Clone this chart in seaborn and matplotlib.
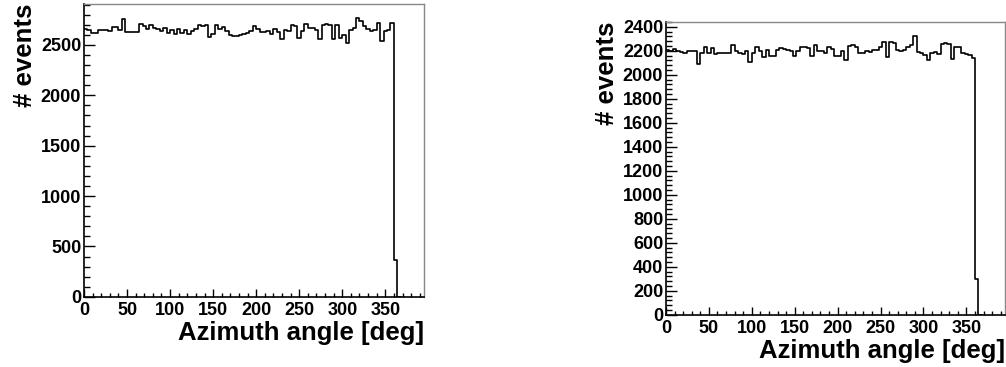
import numpy as np
import pandas as pd
import seaborn as sns
import matplotlib
matplotlib.use("Agg")
import matplotlib.pyplot as plt
from matplotlib.ticker import MultipleLocator, AutoMinorLocator

# 4 degree bins; bin 360-364 only partly filled, 364-368 empty
bin_edges = list(range(0, 372, 4))

counts_left = [
    2660, 2645, 2620, 2615, 2645, 2650, 2650, 2640, 2675, 2675,
    2650, 2760, 2625, 2625, 2630, 2625, 2710, 2690, 2660, 2700,
    2670, 2660, 2640, 2670, 2620, 2650, 2610, 2655, 2615, 2650,
    2610, 2640, 2660, 2700, 2690, 2700, 2580, 2610, 2700, 2660,
    2680, 2640, 2600, 2590, 2590, 2595, 2605, 2615, 2640, 2690,
    2655, 2630, 2625, 2640, 2605, 2660, 2630, 2560, 2650, 2640,
    2700, 2690, 2570, 2640, 2705, 2670, 2665, 2650, 2560, 2700,
    2710, 2700, 2560, 2695, 2570, 2600, 2520, 2650, 2670, 2770,
    2735, 2690, 2660, 2640, 2645, 2720, 2540, 2640, 2650, 2720,
    370, 0,
]

counts_right = [
    2210, 2195, 2215, 2200, 2190, 2180, 2200, 2195, 2200, 2090,
    2180, 2235, 2180, 2225, 2175, 2180, 2180, 2185, 2180, 2250,
    2195, 2185, 2175, 2195, 2110, 2185, 2230, 2200, 2150, 2210,
    2160, 2155, 2205, 2225, 2215, 2210, 2200, 2160, 2200, 2230,
    2235, 2225, 2160, 2250, 2200, 2195, 2185, 2230, 2215, 2160,
    2155, 2200, 2120, 2240, 2245, 2235, 2180, 2185, 2195, 2190,
    2210, 2205, 2230, 2270, 2150, 2270, 2265, 2210, 2200, 2205,
    2230, 2250, 2320, 2190, 2185, 2165, 2120, 2180, 2190, 2175,
    2260, 2265, 2255, 2135, 2230, 2230, 2180, 2170, 2165, 2140,
    300, 0,
]

centers = [(a + b) / 2 for a, b in zip(bin_edges[:-1], bin_edges[1:])]

sns.set_style("white")
plt.rcParams['font.family'] = ['Liberation Sans', 'DejaVu Sans']
plt.rcParams['font.weight'] = 'bold'
plt.rcParams['text.color'] = 'black'
plt.rcParams['axes.labelcolor'] = 'black'
plt.rcParams['xtick.color'] = 'black'
plt.rcParams['ytick.color'] = 'black'

fig = plt.figure(figsize=(10.06, 3.67), dpi=100)
ax1 = fig.add_axes([0.0835, 0.191, 0.338, 0.798])
ax2 = fig.add_axes([0.662, 0.142, 0.337, 0.798])

panels = [
    (ax1, counts_left, 2905, 500),
    (ax2, counts_right, 2440, 200),
]

for ax, counts, ymax, ystep in panels:
    df = pd.DataFrame({"angle": centers, "n": counts})
    sns.histplot(data=df, x="angle", weights="n", bins=bin_edges,
                 element="step", fill=False, color="black", linewidth=1.2, ax=ax)
    ax.set_xlim(0, 395)
    ax.set_ylim(0, ymax)
    ax.xaxis.set_major_locator(MultipleLocator(50))
    ax.xaxis.set_minor_locator(MultipleLocator(10))
    ax.yaxis.set_major_locator(MultipleLocator(ystep))
    ax.yaxis.set_minor_locator(AutoMinorLocator(5))
    ax.tick_params(axis="both", which="both", direction="in", top=False, right=False,
                   bottom=True, left=True, labelsize=13, width=1,
                   color="black", labelcolor="black")
    ax.tick_params(axis="x", which="major", length=6, pad=4)
    ax.tick_params(axis="x", which="minor", length=3)
    ax.tick_params(axis="y", which="major", length=8, pad=2)
    ax.tick_params(axis="y", which="minor", length=4)
    for lbl in ax.get_xticklabels() + ax.get_yticklabels():
        lbl.set_fontweight("bold")
    for side in ["left", "bottom"]:
        ax.spines[side].set_color("black")
        ax.spines[side].set_linewidth(1.2)
    for side in ["top", "right"]:
        ax.spines[side].set_color("#888888")
        ax.spines[side].set_linewidth(1.0)
    ax.set_xlabel("Azimuth angle [deg]", fontsize=18.5, fontweight="bold",
                  loc="right", labelpad=1, color="black")
    ax.set_ylabel("# events", fontsize=18.5, fontweight="bold",
                  loc="top", labelpad=3, color="black")

plt.savefig("out.png", dpi=100)
